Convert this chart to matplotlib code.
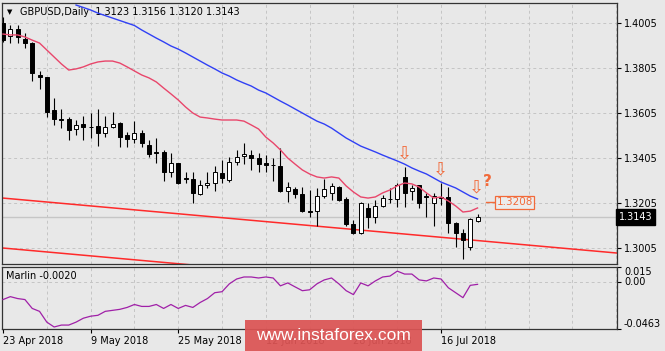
import matplotlib
matplotlib.use('Agg')
import matplotlib.pyplot as plt
from matplotlib.patches import Rectangle
import numpy as np
import pandas as pd

# GBPUSD daily, 23 Apr 2018 .. 23 Jul 2018
dates = pd.bdate_range('2018-04-23', '2018-07-23')

opens = [1.4005, 1.3947, 1.3978, 1.3934, 1.3916, 1.3774, 1.3765, 1.3618, 1.3578, 1.3578,
         1.3534, 1.3556, 1.3545, 1.3547, 1.3516, 1.3543, 1.3561, 1.3507, 1.3489, 1.3516,
         1.3463, 1.3432, 1.3432, 1.3343, 1.3383, 1.3316, 1.3312, 1.3245, 1.3285, 1.3294,
         1.3338, 1.3307, 1.3387, 1.3414, 1.3418, 1.3405, 1.3383, 1.3374, 1.3369, 1.3259,
         1.3267, 1.3245, 1.3169, 1.3169, 1.3236, 1.3250, 1.3276, 1.3223, 1.3112, 1.3072,
         1.3183, 1.3143, 1.3192, 1.3223, 1.3223, 1.3321, 1.3259, 1.3285, 1.3236, 1.3205,
         1.3232, 1.3232, 1.3116, 1.3072, 1.3010, 1.3123]
highs = [1.4032, 1.3996, 1.3996, 1.3961, 1.3921, 1.3792, 1.3765, 1.3672, 1.3623, 1.3587,
         1.3574, 1.3592, 1.3605, 1.3623, 1.3592, 1.3609, 1.3565, 1.3521, 1.3569, 1.3529,
         1.3485, 1.3494, 1.3441, 1.3427, 1.3383, 1.3343, 1.3343, 1.3307, 1.3343, 1.3369,
         1.3396, 1.3409, 1.3441, 1.3472, 1.3441, 1.3427, 1.3418, 1.3405, 1.3449, 1.3298,
         1.3276, 1.3276, 1.3263, 1.3272, 1.3312, 1.3294, 1.3281, 1.3232, 1.3130, 1.3210,
         1.3205, 1.3218, 1.3241, 1.3272, 1.3294, 1.3365, 1.3285, 1.3285, 1.3250, 1.3250,
         1.3294, 1.3276, 1.3121, 1.3090, 1.3138, 1.3156]
lows = [1.3921, 1.3916, 1.3916, 1.3894, 1.3747, 1.3712, 1.3587, 1.3552, 1.3538, 1.3485,
        1.3507, 1.3485, 1.3494, 1.3458, 1.3498, 1.3538, 1.3454, 1.3454, 1.3472, 1.3454,
        1.3409, 1.3383, 1.3303, 1.3321, 1.3290, 1.3294, 1.3205, 1.3241, 1.3272, 1.3259,
        1.3294, 1.3298, 1.3374, 1.3378, 1.3352, 1.3343, 1.3343, 1.3303, 1.3254, 1.3210,
        1.3227, 1.3165, 1.3143, 1.3103, 1.3227, 1.3218, 1.3214, 1.3103, 1.3067, 1.3067,
        1.3094, 1.3116, 1.3187, 1.3205, 1.3187, 1.3187, 1.3218, 1.3183, 1.3143, 1.3103,
        1.3196, 1.3072, 1.3010, 1.2956, 1.2996, 1.3120]
closes = [1.3929, 1.3978, 1.3943, 1.3916, 1.3783, 1.3765, 1.3609, 1.3578, 1.3576, 1.3529,
          1.3552, 1.3543, 1.3543, 1.3516, 1.3543, 1.3556, 1.3498, 1.3489, 1.3516, 1.3472,
          1.3423, 1.3427, 1.3343, 1.3383, 1.3294, 1.3312, 1.3250, 1.3285, 1.3294, 1.3343,
          1.3316, 1.3387, 1.3409, 1.3423, 1.3405, 1.3378, 1.3374, 1.3372, 1.3259, 1.3276,
          1.3245, 1.3169, 1.3167, 1.3236, 1.3267, 1.3281, 1.3218, 1.3112, 1.3072, 1.3205,
          1.3143, 1.3192, 1.3227, 1.3221, 1.3285, 1.3250, 1.3272, 1.3205, 1.3234, 1.3236,
          1.3229, 1.3116, 1.3072, 1.3041, 1.3134, 1.3143]

# short MA (pink), one value per bar
ma_fast = [1.3956, 1.3952, 1.3952, 1.3943, 1.3929, 1.3916, 1.3885, 1.3854, 1.3823, 1.3796,
           1.3801, 1.3810, 1.3823, 1.3832, 1.3836, 1.3836, 1.3827, 1.3810, 1.3792, 1.3774,
           1.3761, 1.3743, 1.3716, 1.3690, 1.3663, 1.3632, 1.3605, 1.3587, 1.3583, 1.3578,
           1.3574, 1.3574, 1.3574, 1.3569, 1.3552, 1.3534, 1.3498, 1.3472, 1.3441, 1.3405,
           1.3378, 1.3352, 1.3334, 1.3321, 1.3316, 1.3321, 1.3316, 1.3281, 1.3254, 1.3232,
           1.3227, 1.3232, 1.3250, 1.3263, 1.3281, 1.3294, 1.3290, 1.3276, 1.3250, 1.3227,
           1.3232, 1.3214, 1.3192, 1.3165, 1.3169, 1.3183]
# long MA (blue), starts at bar 10 (earlier part is above the visible range)
ma_slow_start = 10
ma_slow = [1.4085, 1.4074, 1.4063, 1.4049, 1.4038, 1.4027, 1.4016, 1.4005, 1.3994, 1.3974,
           1.3956, 1.3938, 1.3921, 1.3903, 1.3889, 1.3872, 1.3854, 1.3836, 1.3818, 1.3801,
           1.3783, 1.3769, 1.3752, 1.3738, 1.3725, 1.3707, 1.3694, 1.3676, 1.3658, 1.3641,
           1.3623, 1.3605, 1.3587, 1.3569, 1.3556, 1.3538, 1.3516, 1.3494, 1.3476, 1.3458,
           1.3445, 1.3432, 1.3418, 1.3405, 1.3392, 1.3378, 1.3361, 1.3347, 1.3334, 1.3316,
           1.3298, 1.3285, 1.3272, 1.3254, 1.3236, 1.3223]

marlin = [-0.0171, -0.0142, -0.0161, -0.0171, -0.0259, -0.0288, -0.0395, -0.0443, -0.0424, -0.0424,
          -0.0395, -0.0356, -0.0336, -0.0327, -0.0288, -0.0278, -0.0268, -0.0249, -0.0220, -0.0239,
          -0.0239, -0.0220, -0.0259, -0.0220, -0.0259, -0.0229, -0.0249, -0.0200, -0.0161, -0.0103,
          -0.0093, -0.0015, 0.0033, 0.0053, 0.0053, 0.0043, 0.0053, 0.0043, -0.0035, -0.0006,
          -0.0045, -0.0083, -0.0074, -0.0015, 0.0024, 0.0043, -0.0015, -0.0083, -0.0122, -0.0006,
          -0.0035, 0.0014, 0.0053, 0.0062, 0.0111, 0.0082, 0.0082, 0.0024, 0.0014, 0.0043,
          0.0033, -0.0054, -0.0103, -0.0152, -0.0030, -0.0020]

# channel trend lines: anchors (bar, price)
trend_bars = [0, 84]
trend_upper = [1.3227, 1.2983]
trend_lower = [1.3005, 1.2761]

price_ticks = [1.4005, 1.3805, 1.3605, 1.3405, 1.3205, 1.3005]
last_price = 1.3143
target_price = 1.3208
arrow_bars = [55, 59.9, 64.8]
arrow_prices = [1.3383, 1.3312, 1.3236]

BG = '#e8e8e8'
GRID = '#c4c4c4'
ORANGE = '#f26a3a'
plt.rcParams['font.family'] = ['DejaVu Sans']

fig = plt.figure(figsize=(6.65, 3.51), dpi=100, facecolor=BG)
ax = fig.add_axes([2/665, 1-264/351, 615/665, 261/351], facecolor=BG)
ax2 = fig.add_axes([2/665, 1-329/351, 615/665, 62/351], facecolor=BG, sharex=ax)

x = np.arange(len(opens))
o, h, l, c = map(np.array, (opens, highs, lows, closes))
up = c >= o

# grid
for gx in range(6, 85, 6):
    ax.axvline(gx, color=GRID, lw=0.7, ls=(0, (3, 3)), zorder=0)
    ax2.axvline(gx, color=GRID, lw=0.7, ls=(0, (3, 3)), zorder=0)
for p in price_ticks:
    ax.axhline(p, color=GRID, lw=0.7, ls=(0, (3, 3)), zorder=0)
ax2.axhline(0, color=GRID, lw=0.7, ls=(0, (3, 3)), zorder=0)

# current price level
ax.axhline(last_price, color='#c6c6c6', lw=1.0, zorder=1)

# channel
ax.plot(trend_bars, trend_upper, color='#ff2a2a', lw=1.1, zorder=2)
ax.plot(trend_bars, trend_lower, color='#ff2a2a', lw=1.1, zorder=2)

# candles
ax.vlines(x, l, h, color='black', lw=0.8, zorder=3)
body = np.maximum(np.abs(c - o), 0.00015)
ax.bar(x, body, bottom=np.minimum(o, c), width=0.55,
       color=np.where(up, 'white', 'black'), edgecolor='black', lw=0.7, zorder=4)

# moving averages
ax.plot(x, ma_fast, color='#e8466b', lw=1.0, zorder=5)
ax.plot(np.arange(ma_slow_start, ma_slow_start + len(ma_slow)), ma_slow,
        color='#3040f5', lw=1.0, zorder=5)

# annotations
for bx, by in zip(arrow_bars, arrow_prices):
    ax.text(bx, by, '\u21e9', color=ORANGE, fontsize=13, ha='center', va='bottom', zorder=6)
ax.text(66.4, 1.3266, '?', color=ORANGE, fontsize=11, fontweight='bold', ha='center', va='bottom', zorder=6)
ax.plot([66.2, 67.5], [target_price, target_price], color=ORANGE, lw=1.0, zorder=6)
ax.text(67.6, target_price, f'{target_price:.4f}', color=ORANGE, fontsize=7.5, ha='left', va='center',
        zorder=6, bbox=dict(boxstyle='square,pad=0.15', fc='#ececec', ec=ORANGE, lw=0.9))

ax.set_xlim(-0.14, 84.1)
ax.set_ylim(1.2934, 1.4094)
ax.yaxis.tick_right()
ax.set_yticks(price_ticks)
ax.set_yticklabels([f'{p:.4f}' for p in price_ticks])
ax.tick_params(axis='y', length=3, width=0.8, pad=2, labelsize=7, colors='black')
ax.tick_params(axis='x', bottom=False, labelbottom=False)

# last price tag
ax.text(1.003, last_price, f'{last_price:.4f}', transform=ax.get_yaxis_transform(),
        color='white', fontsize=7, ha='left', va='center',
        bbox=dict(boxstyle='square,pad=0.3', fc='black', ec='black'))

# header
ax.text(0.008, 0.975, '\u25bc', transform=ax.transAxes, fontsize=5, va='top', ha='left')
ax.text(0.03, 0.985, 'GBPUSD,Daily  1.3123 1.3156 1.3120 1.3143', transform=ax.transAxes,
        fontsize=7, va='top', ha='left')

# Marlin panel
ax2.plot(x, marlin, color='#a020a8', lw=0.9, zorder=3)
ax2.set_ylim(-0.0463, 0.0152)
ax2.yaxis.tick_right()
ax2.set_yticks([0.015, 0.0, -0.0463])
ax2.set_yticklabels(['0.015', '0.00', '-0.0463'])
ax2.tick_params(axis='y', length=3, width=0.8, pad=2, labelsize=7)
for lab, va in zip(ax2.get_yticklabels(), ['top', 'center', 'bottom']):
    lab.set_verticalalignment(va)
ax2.text(0.006, 0.86, f'Marlin {marlin[-1]:.4f}', transform=ax2.transAxes, fontsize=7, va='center')

xt = list(range(0, len(dates), 12))
ax2.set_xticks(xt)
ax2.set_xticklabels([f'{dates[i].day} {dates[i].strftime("%b %Y")}' for i in xt], ha='left')
ax2.tick_params(axis='x', length=3, width=0.8, pad=2, labelsize=7)

for a in (ax, ax2):
    for s in a.spines.values():
        s.set_color('#333333')
        s.set_linewidth(0.9)

# watermark (covers two date labels, as in the source)
fig.add_artist(Rectangle((245/665, 0), 177/665, 31/351, transform=fig.transFigure,
                         fc='#dc5454', ec='none', alpha=0.93, zorder=10))
fig.text(333/665, 16/351, 'www.instaforex.com', color='white', fontsize=12.5,
         family='Liberation Sans', ha='center', va='center', zorder=11)

fig.savefig('out.png', dpi=100, facecolor=BG)
